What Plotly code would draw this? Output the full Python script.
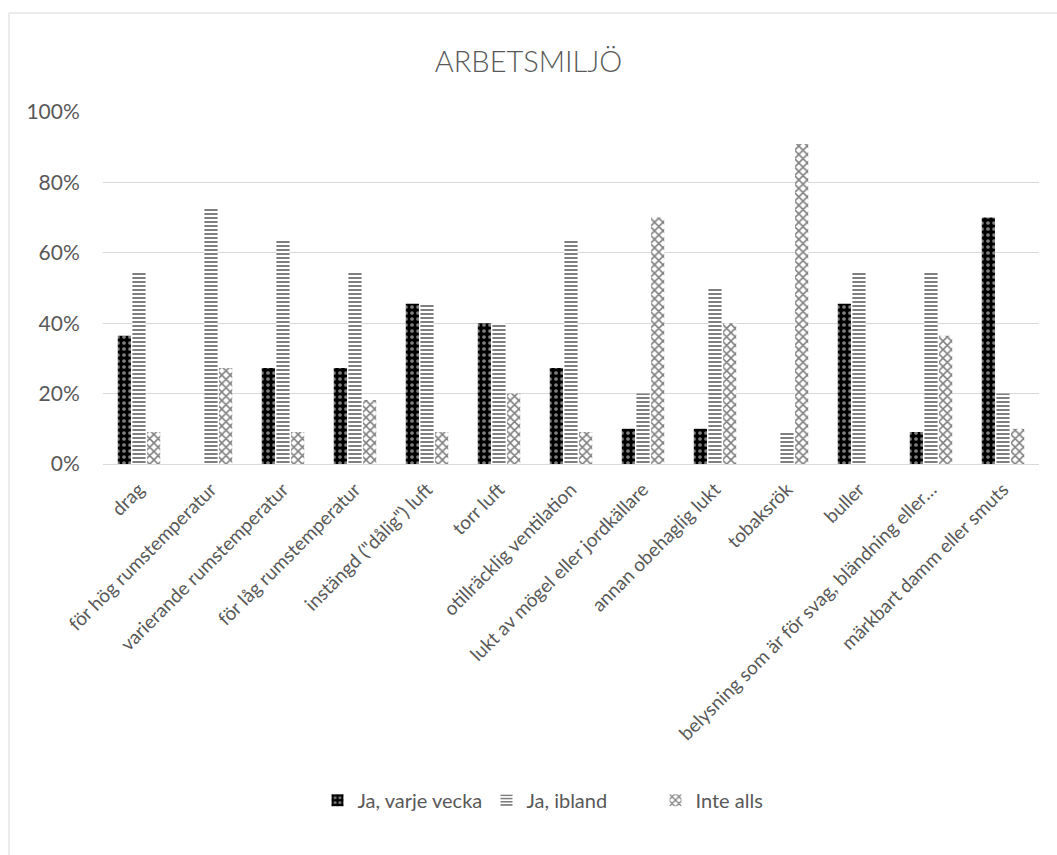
import plotly.graph_objects as go

categories = [
    "drag",
    "för hög rumstemperatur",
    "varierande rumstemperatur",
    "för låg rumstemperatur",
    "instängd (\"dålig\") luft",
    "torr luft",
    "otillräcklig ventilation",
    "lukt av mögel eller jordkällare",
    "annan obehaglig lukt",
    "tobaksrök",
    "buller",
    "belysning som är för svag, bländning eller…",
    "märkbart damm eller smuts",
]
varje_vecka = [0.364, 0.0, 0.273, 0.273, 0.455, 0.40, 0.273, 0.10, 0.10, 0.0, 0.455, 0.091, 0.70]
ibland = [0.545, 0.727, 0.636, 0.545, 0.455, 0.40, 0.636, 0.20, 0.50, 0.091, 0.545, 0.545, 0.20]
inte_alls = [0.091, 0.273, 0.091, 0.182, 0.091, 0.20, 0.091, 0.70, 0.40, 0.909, 0.0, 0.364, 0.10]
series_names = ["Ja, varje vecka", "Ja, ibland", "Inte alls"]

txt = "#595959"
font = "Lato, 'Open Sans', sans-serif"

fig = go.Figure()
fig.add_trace(go.Bar(
    x=categories, y=varje_vecka, name=series_names[0],
    marker=dict(color="black", line=dict(width=0),
                pattern=dict(shape=".", fgcolor="white", bgcolor="black",
                             size=6, solidity=0.3, fillmode="overlay")),
))
fig.add_trace(go.Bar(
    x=categories, y=ibland, name=series_names[1],
    marker=dict(color="white", line=dict(width=0),
                pattern=dict(shape="-", fgcolor="black", bgcolor="white",
                             size=4, solidity=0.5, fillmode="overlay")),
))
fig.add_trace(go.Bar(
    x=categories, y=inte_alls, name=series_names[2],
    marker=dict(color="white", line=dict(width=0),
                pattern=dict(shape="x", fgcolor="black", bgcolor="white",
                             size=6, solidity=0.45, fillmode="overlay")),
))

fig.update_layout(
    width=1057, height=855,
    margin=dict(l=103, r=18, t=112, b=391),
    paper_bgcolor="white", plot_bgcolor="white",
    font=dict(family=font, color=txt, size=20),
    title=dict(text="ARBETSMILJÖ", x=0.5, xanchor="center", y=1 - 62 / 855,
               yanchor="middle",
               font=dict(size=29, color=txt, family=font, weight=300)),
    barmode="group", bargap=0.39, bargroupgap=0.1,
    showlegend=True,
    legend=dict(orientation="h", x=0.5, xanchor="center", y=-0.955, yanchor="middle",
                font=dict(size=20, color=txt), itemwidth=30, entrywidth=124,
                tracegroupgap=0),
    xaxis=dict(tickangle=-45, showgrid=False, showline=True, linecolor="#d9d9d9",
               linewidth=1, tickfont=dict(size=19, color=txt),
               ticks="outside", ticklen=6, tickcolor="rgba(0,0,0,0)"),
    yaxis=dict(range=[0, 1.0], tickvals=[0, 0.2, 0.4, 0.6, 0.8, 1.0],
               tickformat=".0%", showgrid=True, gridcolor="#d9d9d9", gridwidth=1,
               zeroline=False, showline=False,
               ticks="outside", ticklen=18, tickcolor="rgba(0,0,0,0)",
               tickfont=dict(size=21, color=txt)),
    shapes=[dict(type="rect", xref="paper", yref="paper",
                 x0=(9 - 103) / 936, x1=(1070 - 103) / 936,
                 y0=(464 - 870) / 352, y1=(464 - 13) / 352,
                 line=dict(color="#d9d9d9", width=1), fillcolor="rgba(0,0,0,0)",
                 layer="below")],
)

fig.write_html("out.html")
